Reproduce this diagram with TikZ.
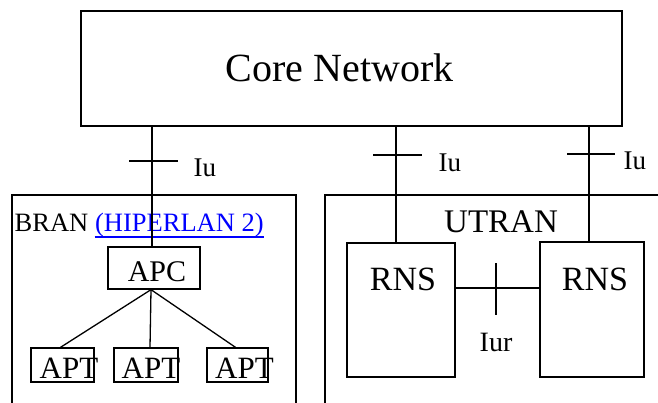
\documentclass[tikz,border=0pt]{standalone}
\usepackage{fontspec}
\setmainfont{Liberation Serif}
\newcommand{\fsz}[1]{\fontsize{#1}{#1}\selectfont}

\begin{document}
\begin{tikzpicture}[x=1pt, y=-1pt, line width=1.3pt,
        box/.style={draw, black, line width=1.3pt, inner sep=0pt},
        txt/.style={inner sep=0pt, anchor=base}]
            \useasboundingbox (0,0) rectangle (658,403);

            % core network
            \node[box, minimum width=541pt, minimum height=115pt] (core) at (351.5,68.5) {};
            \node[txt] (coretxt) at (339.5,82) {\fsz{40}Core Network};

            % bran and utran areas
            \draw (12,403) -- (12,195) -- (296,195) -- (296,403);
            \draw (658,195) -- (325,195) -- (325,403);
            \node[txt, anchor=base west] (bran) at (14,232) {\fsz{26.5}BRAN};
            \node[txt, anchor=base west, blue] (hiper) at (94.5,232) {\fsz{26.5}(HIPERLAN 2)};
            \draw[blue, line width=1.5pt] ([yshift=-5pt]hiper.base west) -- ([yshift=-5pt]hiper.base east);
            \node[txt] (utran) at (501,233) {\fsz{33}UTRAN};

            % apc and apt
            \node[box, minimum width=92pt, minimum height=42pt] (apc) at (154,268) {};
            \node[txt] at (157,281) {\fsz{30}APC};
            \node[box, minimum width=63pt, minimum height=34pt] (apt1) at (62.5,365) {};
            \node[box, minimum width=64pt, minimum height=34pt] (apt2) at (146,365) {};
            \node[box, minimum width=61pt, minimum height=34pt] (apt3) at (237.5,365) {};
            \node[txt] at (69,378) {\fsz{31}APT};
            \node[txt] at (151,378) {\fsz{31}APT};
            \node[txt] at (244.5,378) {\fsz{31}APT};
            \draw ([xshift=-3pt]apc.south) -- ([xshift=-2pt]apt1.north);
            \draw ([xshift=-3pt]apc.south) -- ([xshift=4pt]apt2.north);
            \draw ([xshift=-3pt]apc.south) -- ([xshift=-2pt]apt3.north);

            % rns
            \node[box, minimum width=108pt, minimum height=134pt] (rns1) at (401,310) {};
            \node[box, minimum width=104pt, minimum height=135pt] (rns2) at (592,309.5) {};
            \node[txt] at (403,290) {\fsz{34}RNS};
            \node[txt] at (595,290) {\fsz{34}RNS};

            % iu interfaces
            \draw ([xshift=-2pt]apc.north |- core.south) -- ([xshift=-2pt]apc.north);
            \draw ([xshift=-5pt]rns1.north |- core.south) -- ([xshift=-5pt]rns1.north);
            \draw ([xshift=-3pt]rns2.north |- core.south) -- ([xshift=-3pt]rns2.north);
            \draw (129,161) -- (178,161);
            \draw (373,155) -- (422,155);
            \draw (567,154) -- (615,154);
            \node[txt, anchor=base west] at (193,177) {\fsz{27}Iu};
            \node[txt, anchor=base west] at (438,172) {\fsz{27}Iu};
            \node[txt, anchor=base west] at (623,170) {\fsz{27}Iu};

            % iur interface
            \draw ([yshift=22pt]rns1.east) -- ([yshift=22pt]rns1.east -| rns2.west);
            \draw (496,263) -- (496,315);
            \node[txt] at (496,351) {\fsz{28}Iur};
        \end{tikzpicture}
\end{document}
